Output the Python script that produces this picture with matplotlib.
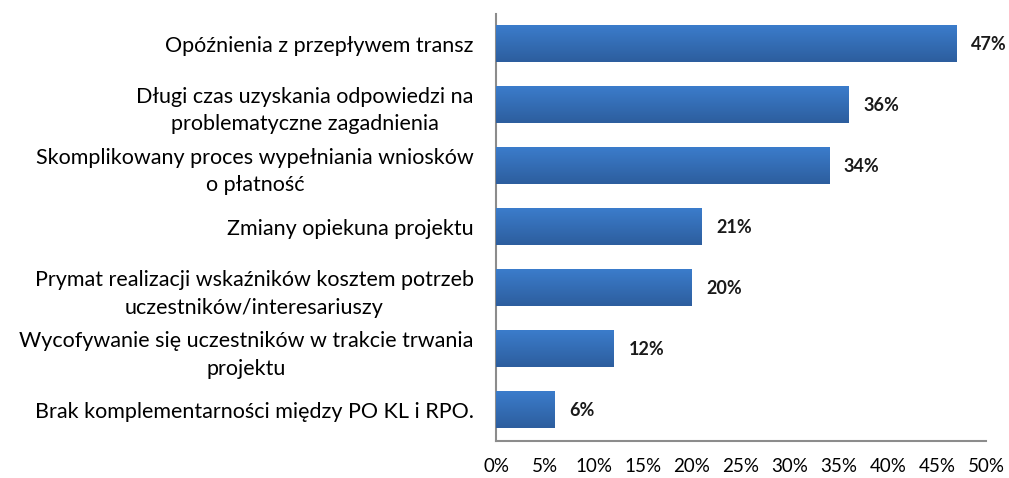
import numpy as np
import matplotlib.pyplot as plt
from matplotlib.colors import LinearSegmentedColormap
import matplotlib.patheffects as pe

plt.rcParams['font.family'] = ['Lato', 'DejaVu Sans']

categories = [
    'Opóźnienia z przepływem transz',
    'Długi czas uzyskania odpowiedzi na\nproblematyczne zagadnienia',
    'Skomplikowany proces wypełniania wniosków\no płatność',
    'Zmiany opiekuna projektu',
    'Prymat realizacji wskaźników kosztem potrzeb\nuczestników/interesariuszy',
    'Wycofywanie się uczestników w trakcie trwania\nprojektu',
    'Brak komplementarności między PO KL i RPO.',
]
values = [47, 36, 34, 21, 20, 12, 6]
xticks = [0, 5, 10, 15, 20, 25, 30, 35, 40, 45, 50]

fig = plt.figure(figsize=(10.09, 4.78), dpi=100)
ax = fig.add_axes([0.4916, 0.0774, 0.4856, 0.894])

y = np.arange(len(categories))
bars = ax.barh(y, values, height=0.59, color='#3468B0', zorder=2,
               path_effects=[pe.SimpleLineShadow(offset=(2, -3), shadow_color='#888888', alpha=0.35),
                             pe.Normal()])

# gradient fill over each bar: lighter on top, darker at the bottom
cmap = LinearSegmentedColormap.from_list('g', ['#3B7CCB', '#2D5E9E'])
grad = np.linspace(0, 1, 64).reshape(-1, 1)
for b in bars:
    x0, y0 = b.get_x(), b.get_y()
    w, h = b.get_width(), b.get_height()
    ax.imshow(grad, cmap=cmap, aspect='auto', origin='upper',
              extent=(x0, x0 + w, y0 + h, y0), zorder=3)

for v, yy in zip(values, y):
    ax.text(v + 1.5, yy, f'{v}%', va='center', ha='left',
            fontsize=13, fontweight='bold', color='#1a1a1a', zorder=4)

ax.set_xlim(0, 50)
ax.set_ylim(len(categories) - 0.5, -0.5)
ax.set_yticks(y)
ax.set_yticklabels(categories, fontsize=15.5, multialignment='center', linespacing=1.45)
ax.set_xticks(xticks)
ax.set_xticklabels([f'{t}%' for t in xticks], fontsize=13.5)
ax.tick_params(axis='y', length=0, pad=16)
ax.tick_params(axis='x', length=0, pad=12)

for s in ['top', 'right']:
    ax.spines[s].set_visible(False)
for s in ['left', 'bottom']:
    ax.spines[s].set_color('#8c8c8c')
    ax.spines[s].set_linewidth(1.5)

fig.savefig('out.png', dpi=100)
